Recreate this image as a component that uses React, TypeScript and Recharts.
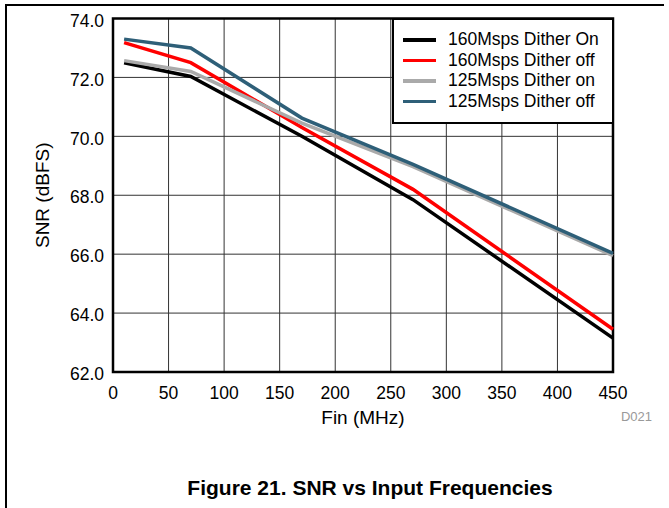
import React from "react";
import { LineChart, Line, XAxis, YAxis, CartesianGrid, ReferenceArea, Label } from "recharts";

const freqs = [10, 70, 170, 270, 450];
const snr160On = [72.5, 72.03, 70.0, 67.85, 63.15];
const snr160Off = [73.18, 72.5, 70.3, 68.2, 63.45];
const snr125On = [72.57, 72.2, 70.45, 68.97, 65.95];
const snr125Off = [73.3, 73.0, 70.62, 69.05, 66.03];
const xTicks = [0, 50, 100, 150, 200, 250, 300, 350, 400, 450];
const yTicks = [62, 64, 66, 68, 70, 72, 74];

const seriesInfo = [
  { key: "a", name: "160Msps Dither On", color: "#000000" },
  { key: "b", name: "160Msps Dither off", color: "#ff0000" },
  { key: "c", name: "125Msps Dither on", color: "#aaaaaa" },
  { key: "d", name: "125Msps Dither off", color: "#2e5f78" },
];

const data = freqs.map((f, i) => ({
  f,
  a: snr160On[i],
  b: snr160Off[i],
  c: snr125On[i],
  d: snr125Off[i],
}));

const font = "'Liberation Sans', Arial, sans-serif";

const LegendBox = () => (
  <div
    style={{
      position: "absolute",
      left: 392,
      top: 17.5,
      width: 222,
      height: 106,
      boxSizing: "border-box",
      border: "2.5px solid #000",
      background: "#fff",
      padding: "10px 0 0 9px",
      fontFamily: font,
      fontSize: 17.5,
      color: "#000",
    }}
  >
    {seriesInfo.map((s) => (
      <div key={s.key} style={{ display: "flex", alignItems: "center", height: 20.5 }}>
        <div style={{ width: 33, height: 3.5, background: s.color, marginRight: 12 }} />
        <span>{s.name}</span>
      </div>
    ))}
  </div>
);

export default function App() {
  return (
    <div style={{ position: "absolute", left: 0, top: 0, width: 669, height: 508, background: "#fff", fontFamily: font }}>
      <div style={{ position: "absolute", left: 5, top: 4, width: 659, height: 1.5, background: "#000" }} />
      <div style={{ position: "absolute", left: 5, top: 4, width: 1.5, height: 504, background: "#000" }} />
      <LineChart
        width={669}
        height={508}
        data={data}
        margin={{ top: 18.5, right: 56, bottom: 106, left: 0 }}
        style={{ position: "absolute", left: 0, top: 0 }}
      >
        <CartesianGrid stroke="#333" strokeWidth={1} horizontalValues={yTicks} verticalValues={xTicks} />
        <XAxis
          dataKey="f"
          type="number"
          domain={[0, 450]}
          ticks={xTicks}
          axisLine={false}
          tickLine={false}
          tickMargin={9}
          height={30}
          tick={{ fill: "#000", fontSize: 17.5, fontFamily: font }}
          interval={0}
        >
          <Label value="Fin (MHz)" position="insideBottom" offset={-22} style={{ fill: "#000", fontSize: 19, fontFamily: font }} />
        </XAxis>
        <YAxis
          type="number"
          domain={[62, 74]}
          ticks={yTicks}
          axisLine={false}
          tickLine={false}
          tickMargin={3}
          width={113}
          tickFormatter={(v: number) => v.toFixed(1)}
          tick={{ fill: "#000", fontSize: 17.5, fontFamily: font, dy: 2 }}
          interval={0}
        >
          <Label value="SNR (dBFS)" angle={-90} position="insideLeft" offset={42} style={{ fill: "#000", fontSize: 19, fontFamily: font, textAnchor: "middle" }} />
        </YAxis>
        <ReferenceArea x1={0} x2={450} y1={62} y2={74} fill="none" stroke="#000" strokeWidth={2.5} ifOverflow="visible" />
        {seriesInfo.map((s) => (
          <Line
            key={s.key}
            dataKey={s.key}
            name={s.name}
            stroke={s.color}
            strokeWidth={3.5}
            dot={false}
            activeDot={false}
            isAnimationActive={false}
            type="linear"
          />
        ))}
      </LineChart>
      <LegendBox />
      <div style={{ position: "absolute", left: 590, top: 409, fontSize: 13, color: "#999", width: 62, textAlign: "right" }}>D021</div>
      <div style={{ position: "absolute", left: 0, width: 740, top: 476, textAlign: "center", fontWeight: "bold", fontSize: 21, color: "#000" }}>
        Figure 21. SNR vs Input Frequencies
      </div>
    </div>
  );
}
